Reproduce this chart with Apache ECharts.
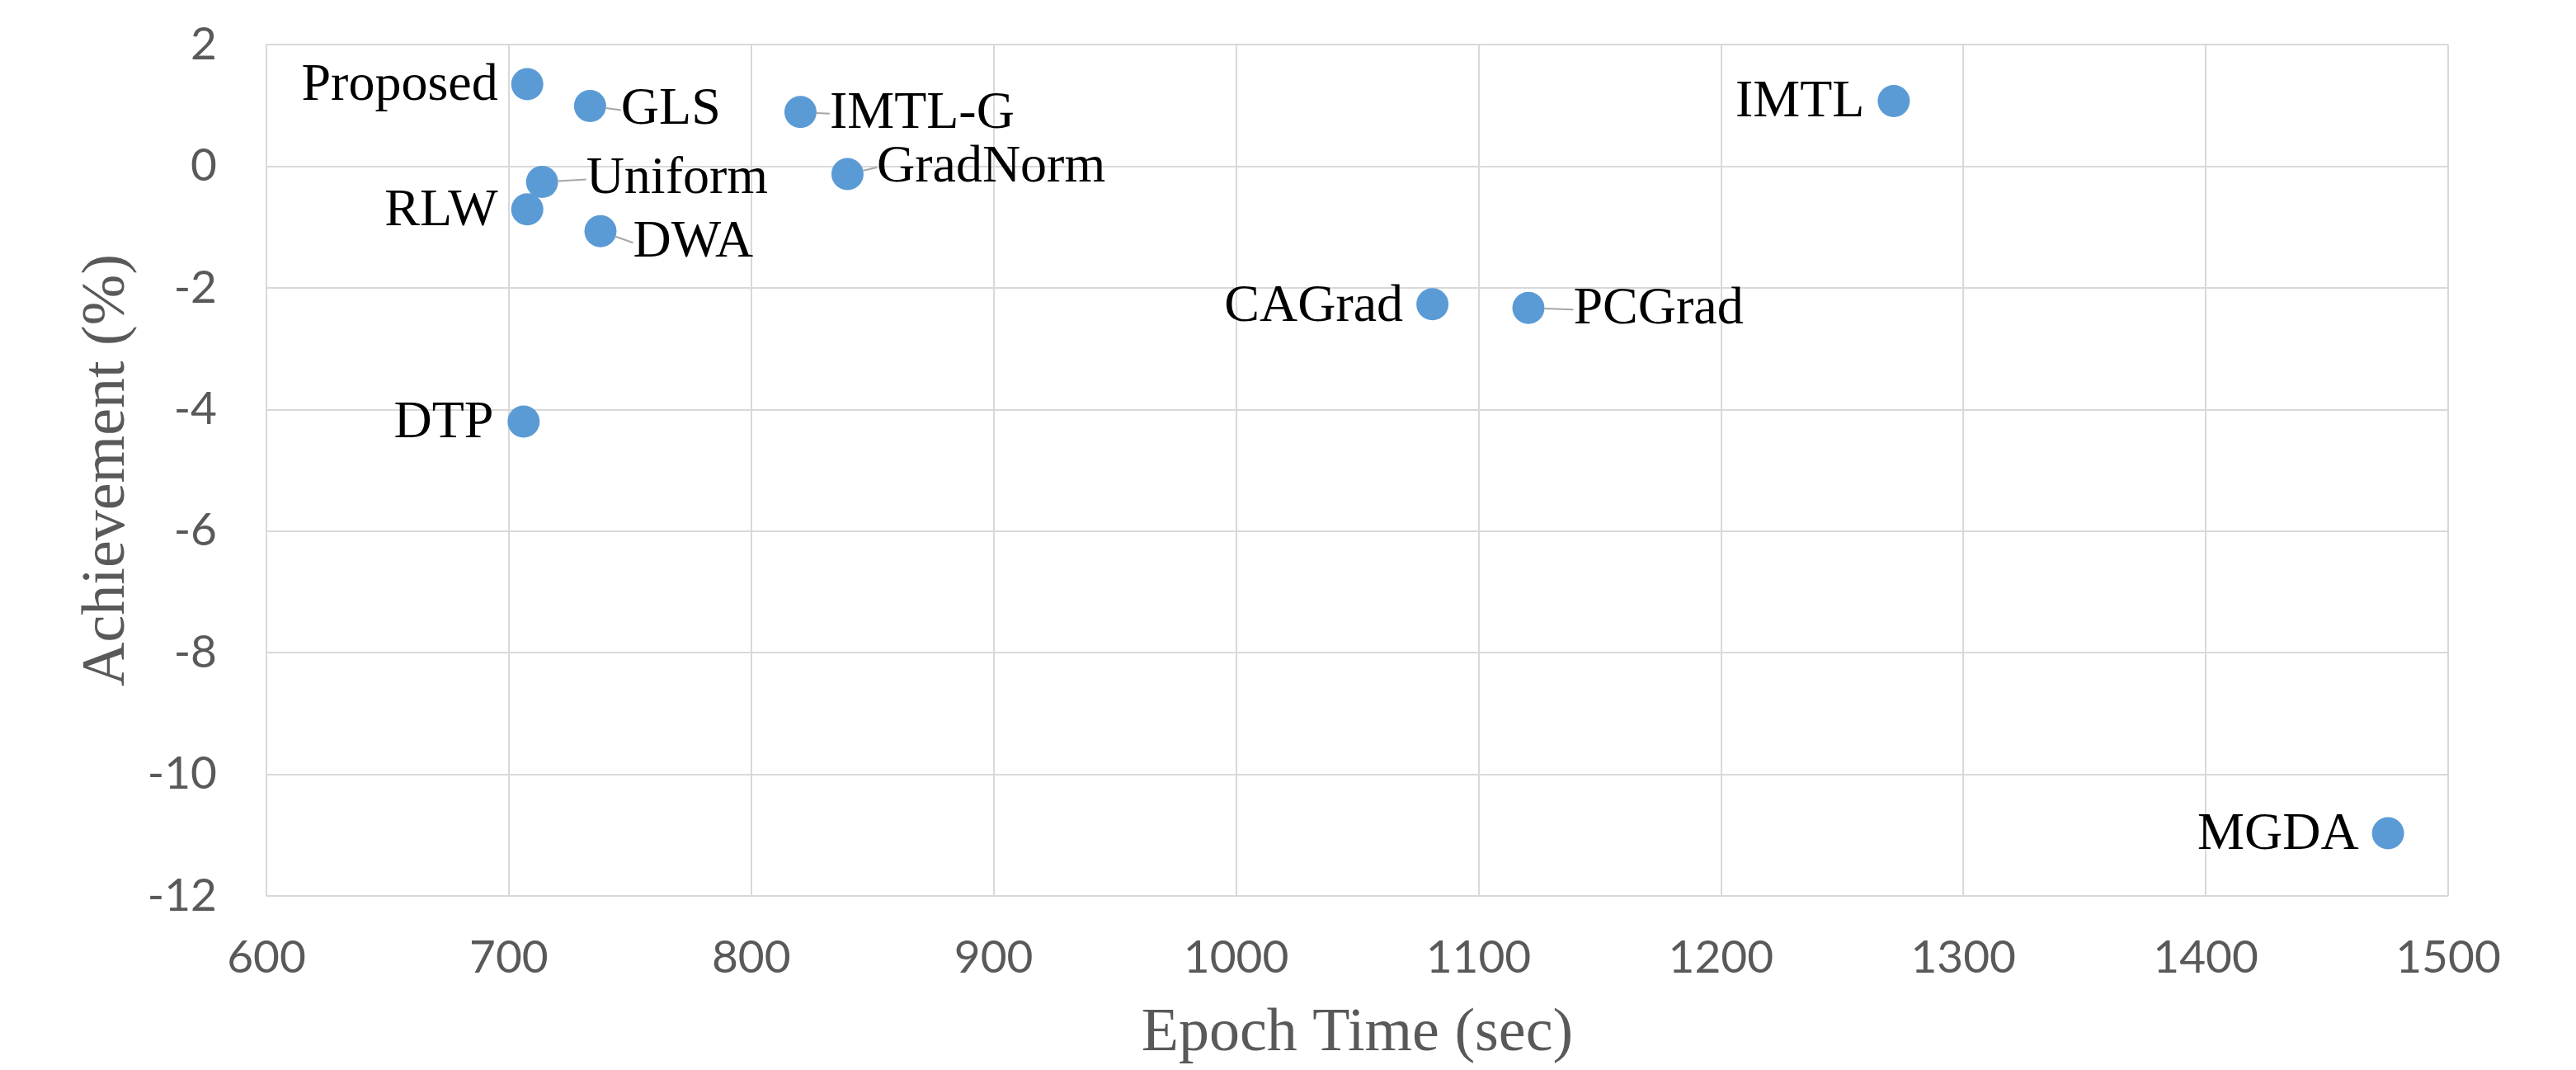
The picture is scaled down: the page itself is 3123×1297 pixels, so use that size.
<!DOCTYPE html>
<html>
<head>
<meta charset="utf-8">
<script src="https://cdn.jsdelivr.net/npm/echarts@6/dist/echarts.min.js"></script>
<style>
html,body{margin:0;padding:0;background:#fff;}
#chart{width:3123px;height:1297px;}
</style>
</head>
<body>
<div id="chart"></div>
<script>
// ---- data ----
const methods = ['Proposed','GLS','IMTL-G','IMTL','Uniform','GradNorm','RLW','DWA','CAGrad','PCGrad','DTP','MGDA'];
const epochTime = [707.6, 733.5, 820.3, 1271.3, 713.7, 839.7, 707.6, 737.8, 1081, 1120.6, 706.1, 1475.2];
const achievement = [1.35, 0.99, 0.89, 1.07, -0.26, -0.13, -0.71, -1.07, -2.27, -2.33, -4.2, -10.97];
const xTicks = [600, 700, 800, 900, 1000, 1100, 1200, 1300, 1400, 1500];
const yTicks = [-12, -10, -8, -6, -4, -2, 0, 2];

// ---- label placement (style only): side, gap from symbol edge, vertical shift, leader line ----
const labelPlace = {
  'Proposed': {side:'left',  gap:16, dy:2,  line:false},
  'GLS':      {side:'right', gap:18, dy:5,  line:true},
  'IMTL-G':   {side:'right', gap:16, dy:2,  line:true},
  'IMTL':     {side:'left',  gap:16, dy:2,  line:false},
  'Uniform':  {side:'right', gap:34, dy:-3, line:true},
  'GradNorm': {side:'right', gap:16, dy:-8, line:true},
  'RLW':      {side:'left',  gap:16, dy:2,  line:false},
  'DWA':      {side:'right', gap:20, dy:14, line:true},
  'CAGrad':   {side:'left',  gap:16, dy:3,  line:false},
  'PCGrad':   {side:'right', gap:35, dy:2,  line:true},
  'DTP':      {side:'left',  gap:17, dy:2,  line:false},
  'MGDA':     {side:'left',  gap:16, dy:2,  line:false}
};

const serif = "'Liberation Serif','Times New Roman',serif";
const sans = "Lato,'Open Sans','Liberation Sans',sans-serif";

const seriesData = methods.map((m, i) => ({
  name: m,
  value: [epochTime[i], achievement[i]],
  labelLine: {show: labelPlace[m].line, lineStyle: {color: '#A6A6A6', width: 2}}
}));

const chart = echarts.init(document.getElementById('chart'), null, {renderer: 'canvas'});
chart.setOption({
  animation: false,
  backgroundColor: '#ffffff',
  grid: {left: 323, right: 155, top: 54, bottom: 211, containLabel: false},
  xAxis: {
    type: 'value',
    min: xTicks[0], max: xTicks[xTicks.length - 1], interval: 100,
    name: 'Epoch Time (sec)', nameLocation: 'middle', nameGap: 131,
    nameTextStyle: {fontFamily: serif, fontSize: 74, color: '#595959'},
    axisLine: {show: true, lineStyle: {color: '#D9D9D9', width: 2}},
    axisTick: {show: false},
    axisLabel: {fontFamily: sans, fontSize: 55, color: '#595959', margin: 48,
      formatter: v => String(v)},
    splitLine: {show: true, lineStyle: {color: '#D9D9D9', width: 2}}
  },
  yAxis: {
    type: 'value',
    min: yTicks[0], max: yTicks[yTicks.length - 1], interval: 2,
    name: 'Achievement (%)', nameLocation: 'middle', nameGap: 150,
    nameTextStyle: {fontFamily: serif, fontSize: 74, color: '#595959'},
    axisLine: {show: true, onZero: false, lineStyle: {color: '#D9D9D9', width: 2}},
    axisTick: {show: false},
    axisLabel: {fontFamily: sans, fontSize: 55, color: '#595959', margin: 60,
      formatter: v => String(v)},
    splitLine: {show: true, lineStyle: {color: '#D9D9D9', width: 2}}
  },
  series: [{
    type: 'scatter',
    symbol: 'circle',
    symbolSize: 39,
    itemStyle: {color: '#5B9BD5', opacity: 1},
    label: {
      show: true,
      position: 'right',
      formatter: p => p.name,
      fontFamily: serif, fontSize: 64, color: '#000000'
    },
    labelLayout: function (params) {
      const p = labelPlace[methods[params.dataIndex]];
      const r = params.rect;
      const cx = r.x + r.width / 2;
      const cy = r.y + r.height / 2;
      const rad = r.width / 2;
      if (p.side === 'left') {
        return {x: cx - rad - p.gap, y: cy + p.dy, align: 'right', verticalAlign: 'middle'};
      }
      return {x: cx + rad + p.gap, y: cy + p.dy, align: 'left', verticalAlign: 'middle'};
    },
    data: seriesData
  }]
});
</script>
</body>
</html>
